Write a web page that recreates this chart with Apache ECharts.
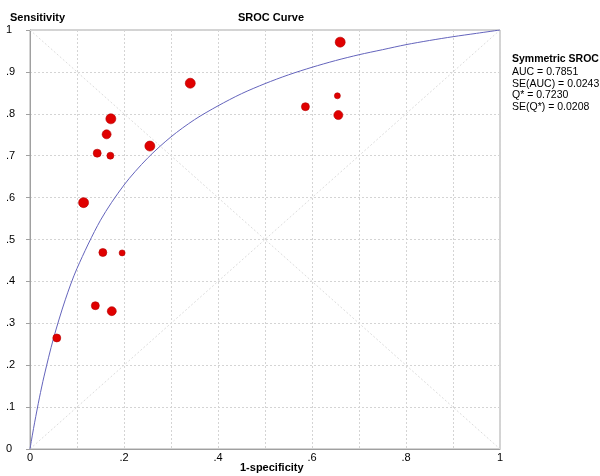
<!DOCTYPE html>
<html>
<head>
<meta charset="utf-8">
<script src="https://cdn.jsdelivr.net/npm/echarts@6/dist/echarts.min.js"></script>
<style>html,body{margin:0;padding:0;background:#fff}#c{width:600px;height:476px}</style>
</head>
<body>
<div id="c"></div>
<script>
// Study points: 1-specificity, sensitivity, marker size (weight)
var studyFpr  = [0.660, 0.341, 0.172, 0.163, 0.255, 0.143, 0.171, 0.114, 0.155, 0.196, 0.139, 0.174, 0.057, 0.586, 0.654, 0.656];
var studySens = [0.971, 0.873, 0.788, 0.751, 0.723, 0.706, 0.700, 0.588, 0.469, 0.468, 0.342, 0.329, 0.265, 0.817, 0.843, 0.797];
var studySize = [10, 10, 10, 9, 10, 8, 7, 10, 8, 6, 8, 9, 8, 8, 6, 9];

// SROC curve points
var curveFpr  = [0, 0.005, 0.01, 0.02, 0.03, 0.05, 0.075, 0.1, 0.15, 0.2, 0.25, 0.3, 0.35, 0.4, 0.45, 0.5, 0.55, 0.6, 0.65, 0.7, 0.75, 0.8, 0.85, 0.9, 0.95, 1];
var curveSens = [0, 0.033, 0.064, 0.122, 0.174, 0.264, 0.356, 0.431, 0.546, 0.630, 0.694, 0.745, 0.786, 0.819, 0.848, 0.872, 0.893, 0.911, 0.927, 0.941, 0.953, 0.965, 0.975, 0.984, 0.992, 1];

// Reference diagonals
var diagX  = [0, 1];
var diagY1 = [0, 1];
var diagY2 = [1, 0];

// Tick labels
var xTickLabels = ['0', '.2', '.4', '.6', '.8', '1'];
var yTickLabels = ['0', '.1', '.2', '.3', '.4', '.5', '.6', '.7', '.8', '.9', '1'];

// Titles and summary text
var xTitle = '1-specificity';
var yTitle = 'Sensitivity';
var chartTitle = 'SROC Curve';
var summaryTitle = 'Symmetric SROC';
var summaryLines = ['AUC = 0.7851', 'SE(AUC) = 0.0243', 'Q* = 0.7230', 'SE(Q*) = 0.0208'];

function zip(a, b) { return a.map(function (v, i) { return [v, b[i]]; }); }

var chart = echarts.init(document.getElementById('c'), null, { renderer: 'canvas' });
var FONT = 'Liberation Sans, Arial, sans-serif';
var gridLine = { show: true, lineStyle: { color: '#d4d4d4', type: [2, 2], width: 1 } };

chart.setOption({
  animation: false,
  backgroundColor: '#fff',
  textStyle: { fontFamily: FONT },
  grid: { left: 30, right: 100, top: 30, bottom: 27, containLabel: false, outerBoundsMode: 'none',
          show: true, borderColor: '#a8a8a8', borderWidth: 1, backgroundColor: 'transparent' },
  xAxis: {
    type: 'value', min: 0, max: 1, interval: 0.1,
    axisLine: { show: true, lineStyle: { color: '#a0a0a0' } },
    axisTick: { show: false },
    splitLine: gridLine,
    axisLabel: {
      margin: 3, fontFamily: FONT, fontSize: 11, color: '#000',
      formatter: function (v) {
        var k = Math.round(v * 10);
        return k % 2 === 0 ? xTickLabels[k / 2] : '';
      }
    }
  },
  yAxis: {
    type: 'value', min: 0, max: 1, interval: 0.1,
    axisLine: { show: true, lineStyle: { color: '#a0a0a0' } },
    axisTick: { show: true, length: 4, lineStyle: { color: '#a0a0a0' } },
    splitLine: gridLine,
    axisLabel: {
      margin: 24, align: 'left', fontFamily: FONT, fontSize: 11, color: '#000',
      formatter: function (v) { return yTickLabels[Math.round(v * 10)]; }
    }
  },
  graphic: [
    { type: 'text', left: 10, top: 12, style: { text: yTitle, font: 'bold 11px ' + FONT, fill: '#000' } },
    { type: 'text', left: 238, top: 12, style: { text: chartTitle, font: 'bold 11px ' + FONT, fill: '#000' } },
    { type: 'text', left: 240, top: 462, style: { text: xTitle, font: 'bold 11px ' + FONT, fill: '#000' } },
    { type: 'text', left: 512, top: 54, style: { text: summaryTitle, font: 'bold 10.5px ' + FONT, fill: '#000' } },
    { type: 'text', left: 512, top: 66, style: { text: summaryLines.join('\n'), font: '10.5px ' + FONT, lineHeight: 11.8, fill: '#000' } }
  ],
  series: [
    { type: 'line', data: zip(diagX, diagY1), symbol: 'none', silent: true, z: 1,
      lineStyle: { color: '#dcdcdc', width: 1, type: [2, 2] } },
    { type: 'line', data: zip(diagX, diagY2), symbol: 'none', silent: true, z: 1,
      lineStyle: { color: '#dcdcdc', width: 1, type: [2, 2] } },
    { type: 'line', data: zip(curveFpr, curveSens), symbol: 'none', smooth: 0.3, z: 2,
      lineStyle: { color: '#6464bc', width: 1 } },
    { type: 'scatter', z: 3,
      data: studyFpr.map(function (x, i) { return [x, studySens[i], studySize[i]]; }),
      symbolSize: function (d) { return d[2]; },
      itemStyle: { color: '#e00000', borderColor: '#b40000', borderWidth: 0.6, opacity: 1 } }
  ]
});
</script>
</body>
</html>
